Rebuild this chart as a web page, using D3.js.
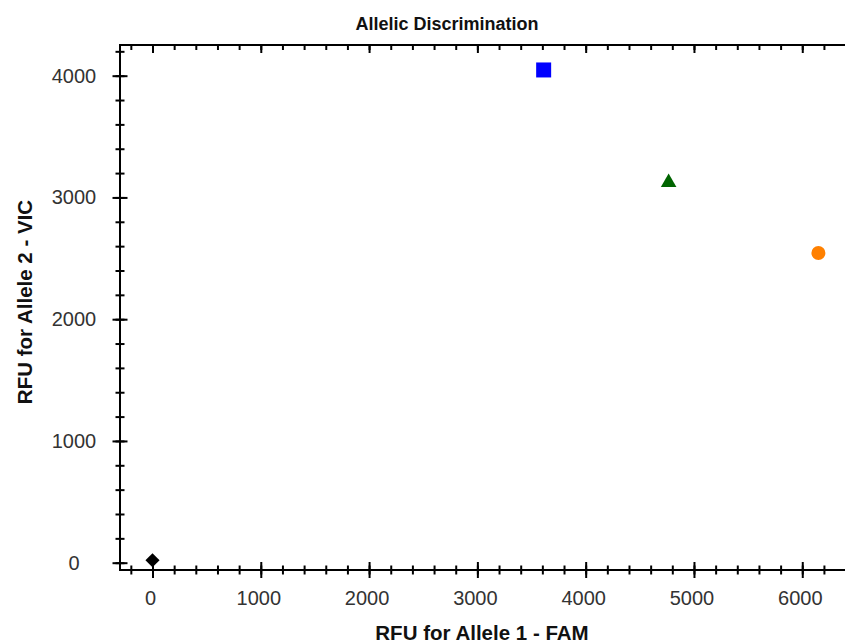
<!DOCTYPE html>
<html>
<head>
<meta charset="utf-8">
<script src="https://cdn.jsdelivr.net/npm/d3@7"></script>
<style>
  body { margin: 0; background: #fff; }
  svg text { font-family: "Liberation Sans", Arial, sans-serif; }
</style>
</head>
<body>
<div id="chart"></div>
<script>
// Sample calls
var callNames = ["No Call", "Allele 2", "Heterozygote", "Allele 1"];
var famRFU = [0, 3612, 4766, 6149];
var vicRFU = [20, 4047, 3122, 2544];
var callShapes = ["diamond", "square", "triangle", "circle"];
var callColors = ["#000000", "#0000ff", "#006400", "#ff8000"];

var xTicks = [0, 1000, 2000, 3000, 4000, 5000, 6000];
var yTicks = [0, 1000, 2000, 3000, 4000];

var svgWidth = 845;
var svgHeight = 644;

var svg = d3.select("#chart")
  .append("svg")
  .attr("width", svgWidth)
  .attr("height", svgHeight);

// plot frame (right edge runs just past the window)
var plotLeft = 120, plotRight = 851, plotTop = 45, plotBottom = 570;

var xScale = d3.scaleLinear().domain([-300, 6450]).range([plotLeft, plotRight]);
var yScale = d3.scaleLinear().domain([-60, 4252]).range([plotBottom, plotTop]);

var xMinor = d3.range(-200, 6450, 200);
var yMinor = d3.range(0, 4252, 200);

function styleAxis(g) {
  g.select(".domain").remove();
  g.selectAll("line").attr("stroke", "#000").attr("stroke-width", 2);
}

// bottom axis: ticks cross the line
var bottomMinor = svg.append("g")
  .attr("transform", `translate(0, ${plotBottom - 4.5})`)
  .call(d3.axisBottom(xScale).tickValues(xMinor).tickSize(9).tickFormat(""));
styleAxis(bottomMinor);

var bottomMajor = svg.append("g")
  .attr("transform", `translate(0, ${plotBottom - 8})`)
  .call(d3.axisBottom(xScale).tickValues(xTicks).tickSize(16).tickFormat(""));
styleAxis(bottomMajor);

svg.append("g")
  .selectAll("text")
  .data(xTicks)
  .enter()
  .append("text")
  .attr("x", d => xScale(d) - 2)
  .attr("y", 605)
  .attr("text-anchor", "middle")
  .attr("font-size", 20)
  .attr("fill", "#333")
  .text(d => d);

// left axis: ticks cross the line
var leftMinor = svg.append("g")
  .attr("transform", `translate(${plotLeft + 4.5}, 0)`)
  .call(d3.axisLeft(yScale).tickValues(yMinor).tickSize(9).tickFormat(""));
styleAxis(leftMinor);

var leftMajor = svg.append("g")
  .attr("transform", `translate(${plotLeft + 7.5}, 0)`)
  .call(d3.axisLeft(yScale).tickValues(yTicks).tickSize(15).tickFormat(""));
styleAxis(leftMajor);

svg.append("g")
  .selectAll("text")
  .data(yTicks)
  .enter()
  .append("text")
  .attr("x", 74)
  .attr("y", d => yScale(d) + 7)
  .attr("text-anchor", "middle")
  .attr("font-size", 20)
  .attr("fill", "#333")
  .text(d => d);

// top axis: ticks point down
var topMinor = svg.append("g")
  .attr("transform", `translate(0, ${plotTop})`)
  .call(d3.axisBottom(xScale).tickValues(xMinor).tickSize(5).tickFormat(""));
styleAxis(topMinor);
var topMajor = svg.append("g")
  .attr("transform", `translate(0, ${plotTop})`)
  .call(d3.axisBottom(xScale).tickValues(xTicks).tickSize(8).tickFormat(""));
styleAxis(topMajor);

// right axis: ticks point left, mostly hidden past the edge
var rightMajor = svg.append("g")
  .attr("transform", `translate(${plotRight + 1}, 0)`)
  .call(d3.axisLeft(yScale).tickValues(yTicks).tickSize(7).tickFormat(""));
styleAxis(rightMajor);
rightMajor.selectAll("line").attr("stroke", "#999");

// frame lines
svg.append("rect")
  .attr("x", plotLeft)
  .attr("y", plotTop)
  .attr("width", plotRight - plotLeft)
  .attr("height", plotBottom - plotTop)
  .attr("fill", "none")
  .attr("stroke", "#000")
  .attr("stroke-width", 2);

// markers
var symbolTypes = {
  diamond: d3.symbolSquare,
  square: d3.symbolSquare,
  triangle: d3.symbolTriangle,
  circle: d3.symbolCircle
};
var symbolSizes = { diamond: 100, square: 225, triangle: 105, circle: 154 };

svg.append("g")
  .selectAll("path")
  .data(famRFU)
  .enter()
  .append("path")
  .attr("d", (d, i) => d3.symbol().type(symbolTypes[callShapes[i]]).size(symbolSizes[callShapes[i]])())
  .attr("transform", (d, i) => {
    var t = `translate(${xScale(d)}, ${yScale(vicRFU[i])})`;
    return callShapes[i] === "diamond" ? t + " rotate(45)" : t;
  })
  .attr("fill", (d, i) => callColors[i]);

// title and axis labels
svg.append("text")
  .attr("x", 447)
  .attr("y", 30)
  .attr("text-anchor", "middle")
  .attr("font-size", 18)
  .attr("font-weight", "bold")
  .attr("fill", "#111")
  .text("Allelic Discrimination");

svg.append("text")
  .attr("x", 482)
  .attr("y", 640)
  .attr("text-anchor", "middle")
  .attr("font-size", 20.5)
  .attr("font-weight", "bold")
  .attr("fill", "#111")
  .text("RFU for Allele 1 - FAM");

svg.append("text")
  .attr("transform", "rotate(-90)")
  .attr("x", -302)
  .attr("y", 32)
  .attr("text-anchor", "middle")
  .attr("font-size", 20.5)
  .attr("font-weight", "bold")
  .attr("fill", "#111")
  .text("RFU for Allele 2 - VIC");
</script>
</body>
</html>
